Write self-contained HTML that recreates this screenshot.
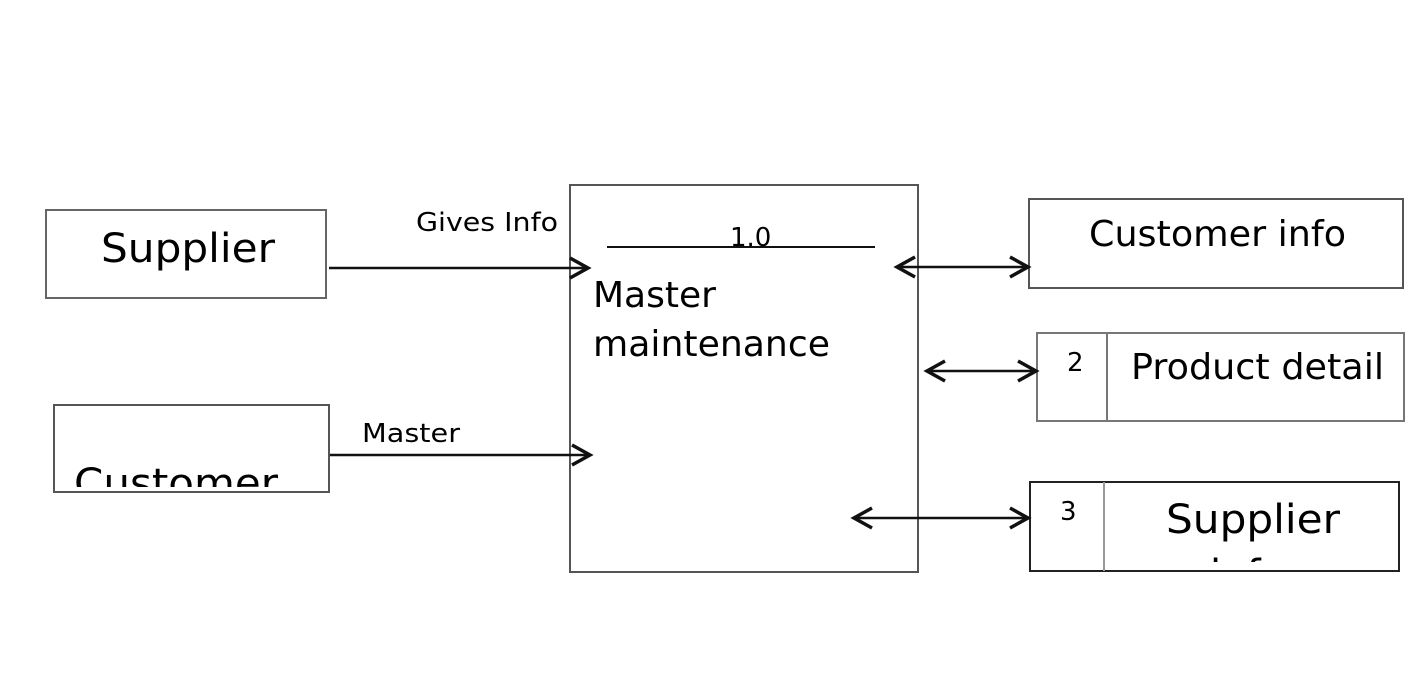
<!DOCTYPE html>
<html><head><meta charset="utf-8"><style>
html,body{margin:0;padding:0;background:#fff;width:1425px;height:697px;overflow:hidden}
svg{display:block}
text{font-family:"DejaVu Sans","Liberation Sans",sans-serif;fill:#000}
</style></head><body>
<svg width="1425" height="697" viewBox="0 0 1425 697">
<defs>
<clipPath id="c1"><rect x="54" y="405" width="276" height="82"/></clipPath>
<clipPath id="c2"><rect x="1104" y="482" width="295" height="80"/></clipPath>
</defs>
<g fill="none" stroke-width="2">
<rect x="46" y="210" width="280" height="88" stroke="#666"/>
<rect x="54" y="405" width="275" height="87" stroke="#555"/>
<rect x="570" y="185" width="348" height="387" stroke="#555"/>
<rect x="1029" y="199" width="374" height="89" stroke="#555"/>
<rect x="1037" y="333" width="367" height="88" stroke="#777"/>
<line x1="1107" y1="333" x2="1107" y2="421" stroke="#777"/>
<rect x="1030" y="482" width="369" height="89" stroke="#222"/>
<line x1="1104" y1="482" x2="1104" y2="571" stroke="#999"/>
</g>
<line x1="607" y1="247" x2="875" y2="247" stroke="#111" stroke-width="2"/>
<g stroke="#111" stroke-width="2.5" fill="none">
<line x1="329" y1="268" x2="588" y2="268"/>
<polyline points="570,258 588,268 570,278" stroke-width="3.5"/>
<line x1="330" y1="455" x2="588" y2="455"/>
<polyline points="572,445 590,455 572,465" stroke-width="3.5"/>
<line x1="898" y1="267" x2="1027" y2="267"/>
<polyline points="915,257 897,267 915,277" stroke-width="3.5"/>
<polyline points="1010,257 1028,267 1010,277" stroke-width="3.5"/>
<line x1="928" y1="371" x2="1035" y2="371"/>
<polyline points="945,361 927,371 945,381" stroke-width="3.5"/>
<polyline points="1018,361 1036,371 1018,381" stroke-width="3.5"/>
<line x1="854" y1="518" x2="1027" y2="518"/>
<polyline points="872,508 854,518 872,528" stroke-width="3.5"/>
<polyline points="1010,508 1028,518 1010,528" stroke-width="3.5"/>
</g>
<text x="101" y="262" font-size="40" textLength="174" lengthAdjust="spacingAndGlyphs">Supplier</text>
<text x="74" y="497" font-size="40" textLength="204" lengthAdjust="spacingAndGlyphs" clip-path="url(#c1)">Customer</text>
<text x="416" y="231" font-size="26" textLength="142" lengthAdjust="spacingAndGlyphs">Gives Info</text>
<text x="362" y="442" font-size="26" textLength="98" lengthAdjust="spacingAndGlyphs">Master</text>
<text x="730" y="246" font-size="26">1.0</text>
<text x="593" y="307" font-size="36">Master</text>
<text x="593" y="356" font-size="36" textLength="237" lengthAdjust="spacingAndGlyphs">maintenance</text>
<text x="1089" y="246" font-size="36" textLength="257" lengthAdjust="spacingAndGlyphs">Customer info</text>
<text x="1067" y="371" font-size="26">2</text>
<text x="1131" y="379" font-size="36" textLength="253" lengthAdjust="spacingAndGlyphs">Product detail</text>
<text x="1060" y="520" font-size="26">3</text>
<text x="1166" y="533" font-size="40" textLength="174" lengthAdjust="spacingAndGlyphs">Supplier</text>
<text x="1210" y="588" font-size="40" clip-path="url(#c2)">info</text>
</svg>
</body></html>
